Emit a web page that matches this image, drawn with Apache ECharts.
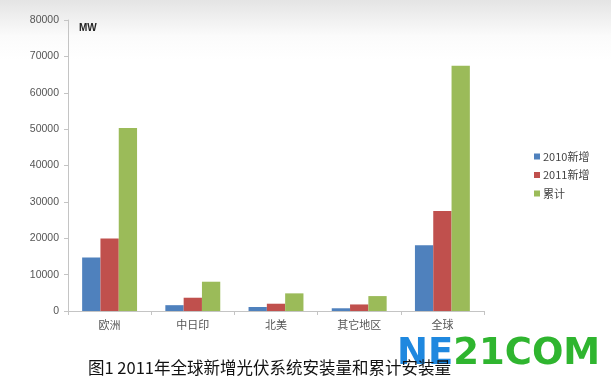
<!DOCTYPE html>
<html><head><meta charset="utf-8">
<script src="https://cdn.jsdelivr.net/npm/echarts@6/dist/echarts.min.js"></script>
<style>html,body{margin:0;padding:0;background:#fff}#c{width:611px;height:380px}</style>
</head><body><div id="c"></div>
<script>
const categories = ['欧洲', '中日印', '北美', '其它地区', '全球'];
const seriesNames = ['2010新增', '2011新增', '累计'];
const new2010 = [14700, 1600, 1100, 750, 18100];
const new2011 = [19900, 3650, 2000, 1800, 27500];
const cumulative = [50300, 8050, 4850, 4100, 67400];
const yTicks = [0, 10000, 20000, 30000, 40000, 50000, 60000, 70000, 80000];
const unitLabel = 'MW';
const caption = '图1 2011年全球新增光伏系统安装量和累计安装量';

const colors = ['#4f81bd', '#c0504d', '#9bbb59'];
const chart = echarts.init(document.getElementById('c'));
const values = [new2010, new2011, cumulative];
chart.setOption({
  animation: false,
  color: colors,
  grid: { left: 68, right: 127, top: 20, bottom: 69, containLabel: false },
  graphic: [
    { type: 'rect', z: -10, shape: { x: 0, y: 0, width: 611, height: 60 },
      style: { fill: new echarts.graphic.LinearGradient(0, 0, 0, 1, [
        { offset: 0, color: '#e4e4e4' }, { offset: 0.6, color: '#fbfbfb' }, { offset: 1, color: '#ffffff' }]) } },
    { type: 'text', left: 397, top: 336, z: 5,
      style: { text: '{a|NE}{b|21COM}', rich: {
        a: { fill: '#1f88df', fontSize: 37, fontWeight: 'bold', fontFamily: 'DejaVu Sans' },
        b: { fill: '#2fb52f', fontSize: 37, fontWeight: 'bold', fontFamily: 'DejaVu Sans' } } } },
    { type: 'text', left: 88, top: 359, z: 10,
      style: { text: caption, fill: '#111', fontSize: 16.5, fontFamily: 'Noto Sans CJK SC' } },
    { type: 'text', left: 79, top: 23, z: 10,
      style: { text: unitLabel, fill: '#222', fontSize: 10, fontWeight: 'bold', fontFamily: 'Liberation Sans' } }
  ],
  legend: {
    orient: 'vertical', left: 529, top: 146, itemWidth: 6, itemHeight: 6, itemGap: 7.5,
    icon: 'rect', textStyle: { fontSize: 11, color: '#444', fontFamily: 'Noto Sans CJK SC', padding: [0, 0, 0, -2] },
    data: seriesNames
  },
  xAxis: {
    type: 'category', data: categories,
    axisLine: { lineStyle: { color: '#c4c4c4' } },
    axisTick: { show: true, alignWithLabel: false, length: 4, lineStyle: { color: '#c4c4c4' } },
    axisLabel: { color: '#555', fontSize: 11, fontFamily: 'Noto Sans CJK SC', margin: 8 }
  },
  yAxis: {
    type: 'value', min: 0, max: 80000, interval: 10000,
    axisLine: { show: true, lineStyle: { color: '#c4c4c4' } },
    axisTick: { show: true, length: 4, lineStyle: { color: '#c4c4c4' } },
    splitLine: { show: false },
    axisLabel: { color: '#555', fontSize: 10.5, fontFamily: 'Liberation Sans', margin: 9,
      formatter: v => yTicks.includes(v) ? String(v) : '' }
  },
  series: seriesNames.map((n, i) => ({
    name: n, type: 'bar', data: values[i], barGap: '0%', barCategoryGap: '34%'
  }))
});
</script></body></html>
